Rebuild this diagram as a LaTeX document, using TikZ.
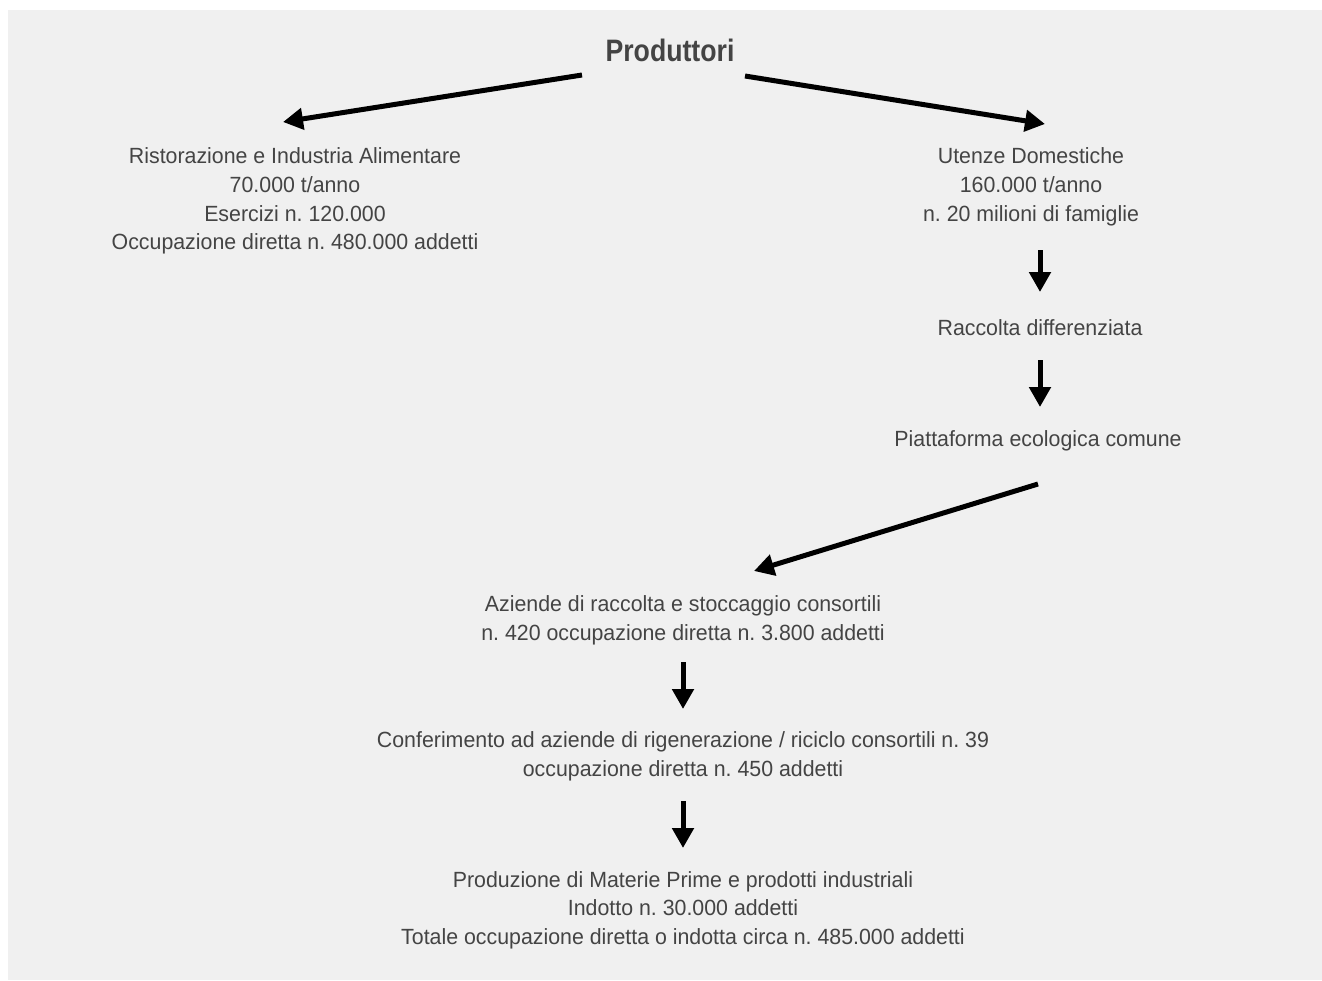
\documentclass[tikz,border=0pt]{standalone}
\usepackage{fontspec}
\setmainfont{Liberation Sans}[FakeStretch=0.97]
\newfontfamily\titlefont{Liberation Sans}[FakeStretch=0.86]
\usetikzlibrary{arrows.meta}
\definecolor{bg}{HTML}{F0F0F0}
\definecolor{txt}{HTML}{444444}
\frenchspacing
\begin{document}
\begin{tikzpicture}[x=1pt,y=-1pt,
  lbl/.style={text=txt,font=\frenchspacing\fontsize{22}{28.7}\selectfont,align=center,inner sep=0pt},
  arr/.style={line width=5pt,-{Triangle[length=20pt,width=21pt]}}]
\useasboundingbox (0,0) rectangle (1322,980);
\fill[white] (0,0) rectangle (1322,980);
\fill[bg] (8,10) rectangle (1322,980);
\node[lbl,font=\titlefont\bfseries\fontsize{31}{36}\selectfont] (prod) at (670,50) {Produttori};
\node[lbl] (rist) at (295,201) {Ristorazione e Industria Alimentare\\70.000 t/anno\\Esercizi n. 120.000\\Occupazione diretta n. 480.000 addetti};
\node[lbl] (ute) at (1031,187) {Utenze Domestiche\\160.000 t/anno\\n. 20 milioni di famiglie};
\node[lbl] (racc) at (1040,328) {Raccolta differenziata};
\node[lbl] (piat) at (1038,441) {Piattaforma ecologica comune};
\node[lbl] (azi) at (683,620) {Aziende di raccolta e stoccaggio consortili\\n. 420 occupazione diretta n. 3.800 addetti};
\node[lbl] (conf) at (683,756) {Conferimento ad aziende di rigenerazione / riciclo consortili n. 39\\occupazione diretta n. 450 addetti};
\node[lbl] (prodz) at (683,910) {Produzione di Materie Prime e prodotti industriali\\Indotto n. 30.000 addetti\\Totale occupazione diretta o indotta circa n. 485.000 addetti};
\coordinate (a1s) at (582,75); \coordinate (a1e) at (283,122);
\coordinate (a2s) at (745,76); \coordinate (a2e) at (1045,124);
\coordinate (a3s) at (1040,250); \coordinate (a3e) at (1040,292);
\coordinate (a4s) at (1040,360); \coordinate (a4e) at (1040,407);
\coordinate (a5s) at (1038,484); \coordinate (a5e) at (754,571);
\coordinate (a6s) at (683,662); \coordinate (a6e) at (683,709);
\coordinate (a7s) at (683,801); \coordinate (a7e) at (683,848);
\draw[arr] (a1s) -- (a1e);
\draw[arr] (a2s) -- (a2e);
\draw[arr] (a3s) -- (a3e);
\draw[arr] (a4s) -- (a4e);
\draw[arr] (a5s) -- (a5e);
\draw[arr] (a6s) -- (a6e);
\draw[arr] (a7s) -- (a7e);
\end{tikzpicture}
\end{document}
